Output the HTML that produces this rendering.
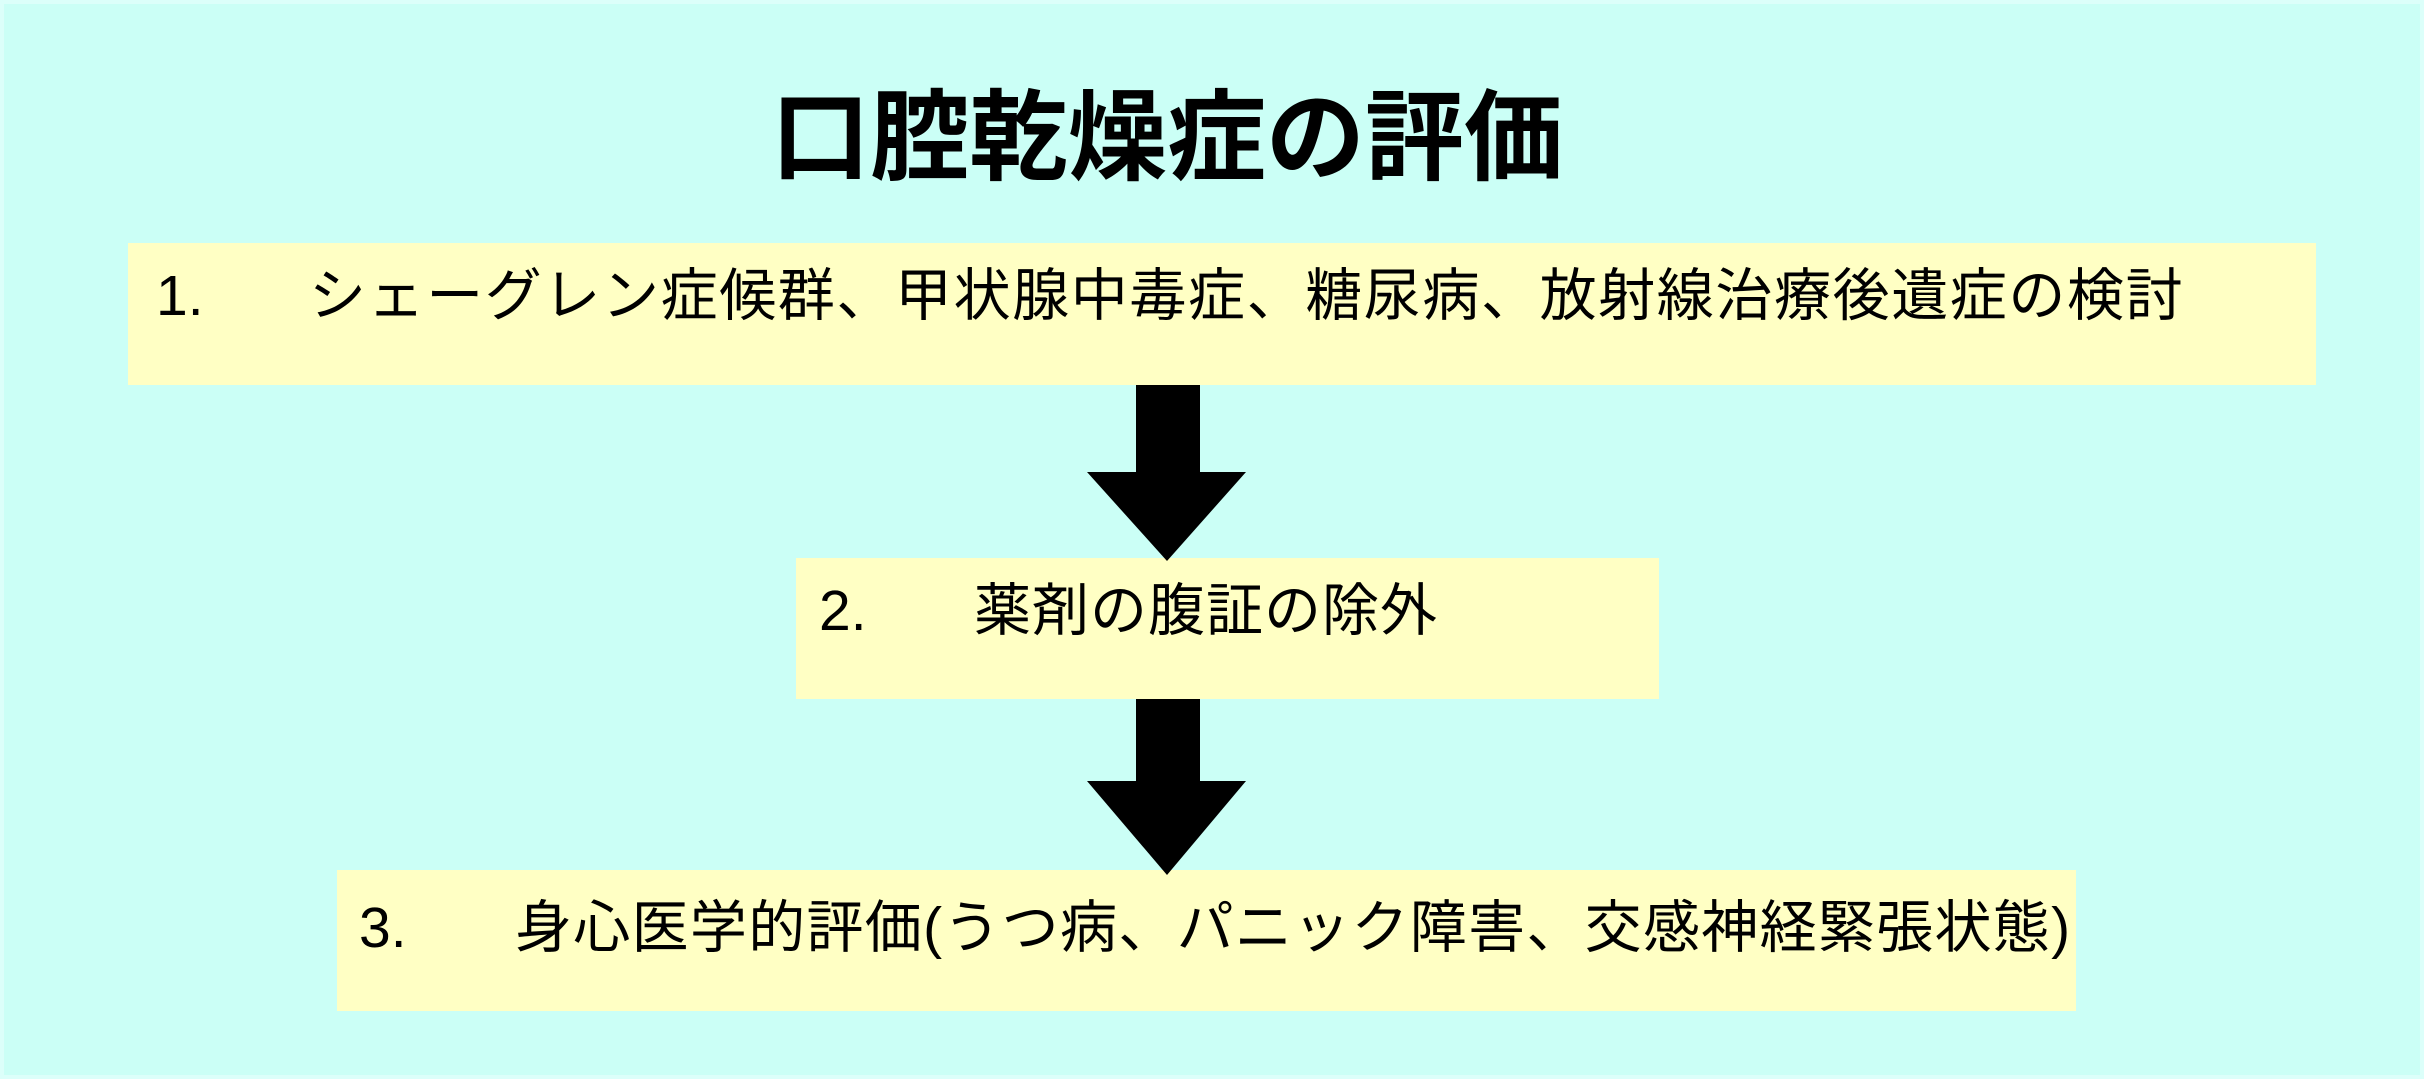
<!DOCTYPE html>
<html><head><meta charset="utf-8"><style>
body{margin:0;width:2424px;height:1079px;background:#cbfff6;position:relative;overflow:hidden;font-family:"Liberation Sans","Noto Sans CJK JP",sans-serif;}
.frame{position:absolute;left:0;top:0;width:2416px;height:1071px;border:4px solid #dcfffa;}
.t{position:absolute;left:1167px;top:78px;transform:translateX(-50%);white-space:nowrap;font-size:99px;font-weight:bold;line-height:120px;color:#000;}
.b{position:absolute;background:#ffffc4;}
.b span{position:absolute;font-size:57px;line-height:70px;white-space:nowrap;color:#000;}
</style></head><body>
<div class="frame"></div>
<div class="t">口腔乾燥症の評価</div>
<div class="b" style="left:128px;top:243px;width:2188px;height:142px">
<span style="left:28px;top:18px">1.</span>
<span style="left:181px;top:18px;letter-spacing:1.6px">シェーグレン症候群、甲状腺中毒症、糖尿病、放射線治療後遺症の検討</span></div>
<div class="b" style="left:796px;top:558px;width:863px;height:141px">
<span style="left:23px;top:18px">2.</span>
<span style="left:178px;top:18px;letter-spacing:1px">薬剤の腹証の除外</span></div>
<div class="b" style="left:337px;top:870px;width:1739px;height:141px">
<span style="left:22px;top:23px">3.</span>
<span style="left:178px;top:23px;letter-spacing:1.3px">身心医学的評価(うつ病、パニック障害、交感神経緊張状態)</span></div>
<svg width="2424" height="1079" style="position:absolute;left:0;top:0">
<polygon points="1136,385 1200,385 1200,472 1246,472 1167,561 1087,472 1136,472" fill="#000"/>
<polygon points="1136,699 1200,699 1200,781 1246,781 1167,875 1087,781 1136,781" fill="#000"/>
</svg>
</body></html>
